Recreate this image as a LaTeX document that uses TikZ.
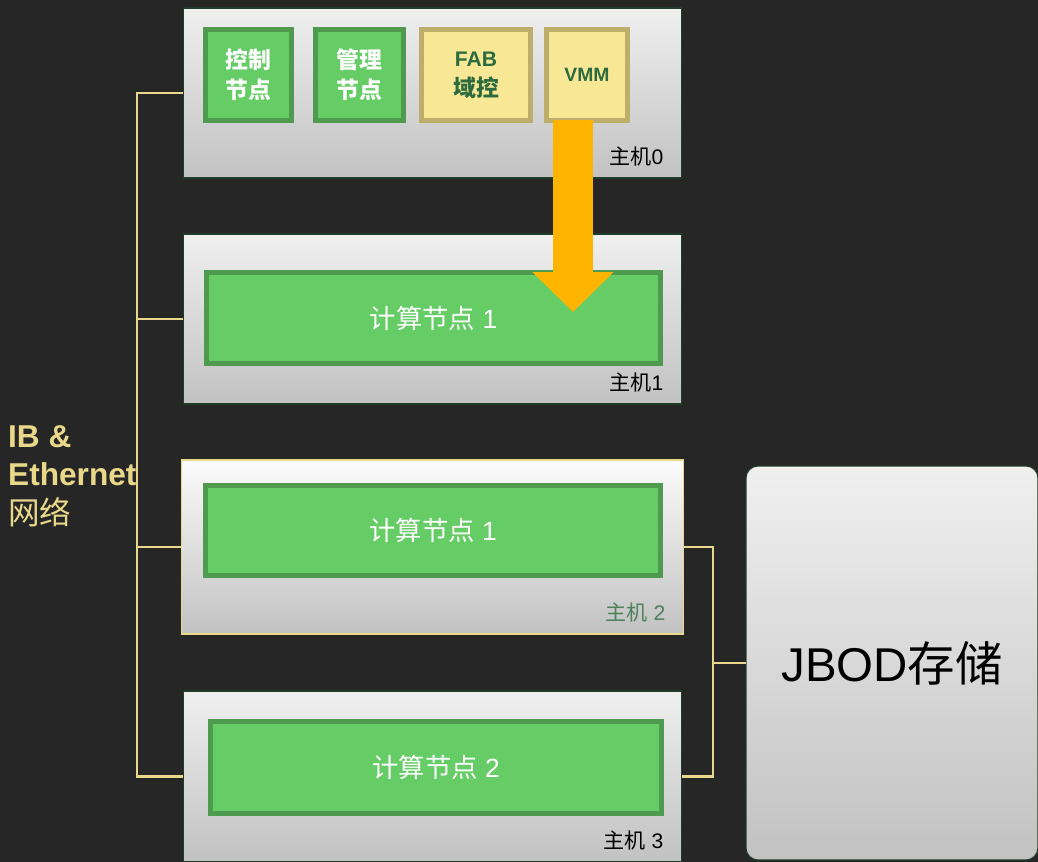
\documentclass[tikz,border=0pt]{standalone}
\usepackage{fontspec}
\setmainfont{Liberation Sans}
\newfontfamily\cjk{Noto Sans CJK SC}
\usetikzlibrary{arrows.meta}
\definecolor{bgdark}{HTML}{262626}
\definecolor{hostline}{HTML}{1F3D2A}
\definecolor{nodegreen}{HTML}{66CC66}
\definecolor{nodegreenline}{HTML}{4E9A4E}
\definecolor{nodeyellow}{HTML}{F8E896}
\definecolor{nodeyellowline}{HTML}{BDAE6C}
\definecolor{fabtext}{HTML}{2C6B3E}
\definecolor{netyellow}{HTML}{E9D88A}
\definecolor{arroworange}{HTML}{FFB400}
\begin{document}
\begin{tikzpicture}[x=0.02cm,y=-0.02cm,
  host/.style={draw=hostline, line width=0.6pt, top color=gray!12, bottom color=gray!48,
    minimum width=9.98cm, minimum height=3.4cm, inner sep=0pt, outer sep=0pt},
  greenbox/.style={draw=nodegreenline, fill=nodegreen, line width=2.8pt, inner sep=0pt,
    outer sep=0pt, text=white, align=center, font=\cjk\bfseries\fontsize{13}{17}\selectfont},
  yellowbox/.style={draw=nodeyellowline, fill=nodeyellow, line width=2.8pt, inner sep=0pt,
    outer sep=0pt, text=fabtext, align=center, font=\bfseries\fontsize{12}{17}\selectfont},
  compute/.style={draw=nodegreenline, fill=nodegreen, line width=2.8pt, inner sep=0pt,
    outer sep=0pt, text=white, minimum width=9.08cm, minimum height=1.82cm,
    font=\fontsize{15}{18}\selectfont},
  hostlabel/.style={anchor=south east, xshift=-7pt, yshift=3pt, font=\fontsize{12}{14}\selectfont},
  net/.style={draw=netyellow, line width=1.2pt}]
  \useasboundingbox (0,0) rectangle (1038,862);
  \fill[bgdark] (0,0) rectangle (1038,862);

  % hosts
  \node[host] (host0) at (432.5,93) {};
  \node[host] (host1) at (432.5,319) {};
  \node[host, draw=netyellow, top color=gray!3, minimum width=10.06cm, minimum height=3.48cm] (host2) at (432.5,547) {};
  \node[host, minimum height=3.42cm] (host3) at (432.5,776.5) {};
  \node[hostlabel] at (host0.south east) {{\cjk 主机}0};
  \node[hostlabel] at (host1.south east) {{\cjk 主机}1};
  \node[hostlabel, text=fabtext!85] at (host2.south east) {{\cjk 主机} 2};
  \node[hostlabel] at (host3.south east) {{\cjk 主机} 3};

  % storage
  \node[draw=hostline, line width=0.6pt, rounded corners=0.24cm, top color=gray!12, bottom color=gray!48,
    minimum width=5.84cm, minimum height=7.88cm, font=\fontsize{27}{32}\selectfont] (jbod) at (892,663) {JBOD{\cjk 存储}};

  % nodes in host 0
  \node[greenbox, minimum width=1.72cm, minimum height=1.82cm] (ctrl) at (248.5,75) {控制\\节点};
  \node[greenbox, minimum width=1.76cm, minimum height=1.82cm] (mgmt) at (359.5,75) {管理\\节点};
  \node[yellowbox, minimum width=2.18cm, minimum height=1.82cm] (fab) at (476,75) {FAB\\{\cjk\fontsize{13}{17}\selectfont 域控}};
  \node[yellowbox, minimum width=1.62cm, minimum height=1.82cm, font=\bfseries\fontsize{11}{13}\selectfont] (vmm) at (587,75) {VMM};

  % compute nodes
  \node[compute] (comp1) at (433.5,318) {{\cjk 计算节点} 1};
  \node[compute, minimum width=9.1cm, minimum height=1.8cm] (comp1b) at (433,530.5) {{\cjk 计算节点} 1};
  \node[compute, minimum width=9.02cm, minimum height=1.84cm] (comp2) at (436,767.5) {{\cjk 计算节点} 2};

  % migration arrow
  \coordinate (tip) at (573,312);
  \draw[arroworange, line width=0.8cm, -{Triangle[width=1.58cm, length=0.8cm]}] ([xshift=-14*0.02cm]vmm.south) -- (tip);

  % network
  \draw[net] (host0.west) -- ++(-46,0) coordinate (bus) |- (host3.west);
  \draw[net] (host1.west) -- (host1.west -| bus);
  \draw[net] (host2.west) -- (host2.west -| bus);
  \draw[net] (host2.east) -- ++(29,0) coordinate (rbus) |- (host3.east);
  \draw[net] (jbod.west) -- (jbod.west -| rbus);
  \node[anchor=west, align=left, text=netyellow, font=\bfseries\fontsize{18}{22}\selectfont] (netlabel) at (2,476) {IB \&\\Ethernet\\{\cjk\mdseries 网络}};
\end{tikzpicture}
\end{document}
